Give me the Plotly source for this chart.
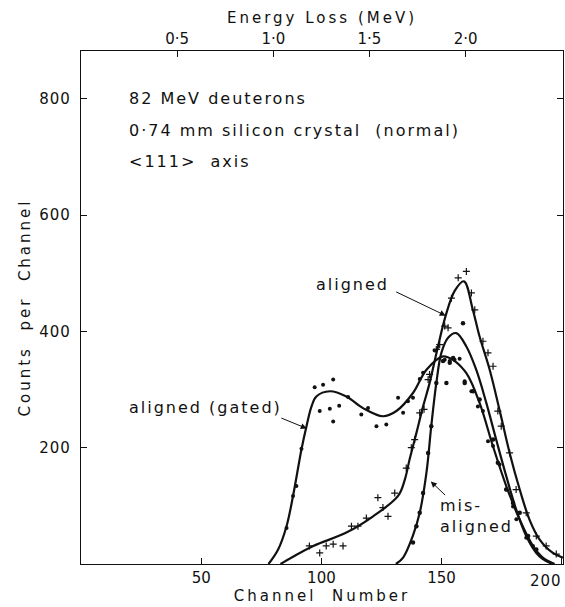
import plotly.graph_objects as go

# ---------------- data (channel, counts) ----------------
# smooth fitted curves
gated_c = [78, 82, 85.5, 88.2, 91.7, 93.8, 95.9, 97.9, 103.5, 110.4, 117.3, 125.6, 131.2, 138.1, 143.7, 150.6, 154.7, 160.3, 165.8, 171.4, 176.9, 182.5, 188, 192.1, 197]
gated_v = [0, 25, 65, 117, 197, 237, 271, 288, 297, 288, 268, 254, 263, 294, 334, 357, 351, 328, 277, 202, 134, 76, 31, 11, 0]

aligned_c = [83, 88, 96.6, 110.4, 121.5, 131.9, 134.7, 136.7, 139.5, 142.3, 145, 148, 151.7, 155.5, 159.3, 163, 165.8, 170, 174.1, 178.3, 182.5, 186.6, 190.8, 196.3, 200.5]
aligned_v = [0, 12, 31, 54, 82, 117, 145, 180, 225, 271, 311, 365, 427, 470, 486, 437, 391, 334, 265, 191, 128, 76, 42, 19, 11]

mis_c = [131, 134, 138, 140.9, 143.7, 145.7, 147.8, 149.9, 152.7, 156.1, 160.3, 164.4, 168.6, 172.7, 176.9, 181, 185.2, 189.4, 192, 196]
mis_v = [0, 11, 48, 88, 157, 237, 311, 363, 389, 397, 374, 334, 277, 214, 151, 94, 48, 19, 9, 0]

# measured points
gated_pc = [85.5, 88.2, 89.6, 91.7, 97.2, 100.7, 104.9, 99.3, 103.5, 107.4, 104.9, 111.1, 119.4, 116.6, 122.9, 127, 131.9, 134, 136, 138.1, 140.9, 142.3, 147.1, 151.3, 153.4, 155.4, 157.5, 159.6, 162.4, 165.1, 167.2, 169.3, 171.4, 174.1, 176.9, 179.7, 181.1, 185.2, 188]
gated_pv = [62, 117, 134, 198, 304, 308, 317, 263, 267, 272, 245, 287, 268, 257, 237, 240, 286, 260, 280, 286, 318, 329, 367, 351, 349, 351, 353, 314, 297, 271, 263, 211, 203, 171, 128, 99, 77, 45, 31]

aligned_pc = [95, 99.3, 102, 104.9, 109, 112.5, 115.2, 118.7, 123.5, 125.6, 127.7, 130.5, 135.3, 137.4, 138.8, 140.9, 142.7, 144.4, 145, 147.8, 149.2, 151.3, 152.7, 154.1, 156.9, 160.3, 162.4, 163.8, 167.2, 169.3, 171.4, 173.4, 174.8, 178.3, 181, 185.2, 189.4, 193.5, 197.7]
aligned_pv = [31, 19, 31, 34, 31, 65, 65, 79, 114, 97, 82, 122, 165, 200, 214, 260, 266, 317, 326, 369, 377, 409, 406, 457, 492, 503, 466, 437, 383, 363, 340, 263, 237, 191, 128, 88, 48, 31, 17]

mis_pc = [138.1, 139.5, 140.9, 142.3, 144.4, 145.7, 147.8, 150.6, 152, 153.4, 154.8, 158.9, 159.6, 163.1, 165.8, 171.4, 173.4, 176.9, 179.7, 182.5, 186, 189.4]
mis_pv = [37, 65, 88, 122, 191, 237, 311, 349, 311, 346, 354, 414, 311, 297, 283, 214, 174, 128, 105, 88, 48, 25]

energy_ticks = [0.5, 1.0, 1.5, 2.0]
energy_labels = ["0·5", "1·0", "1·5", "2·0"]
channel_ticks = [50, 100, 150]
channel_last = 200
count_ticks = [200, 400, 600, 800]

FONT = "DejaVu Sans"
BLACK = "#111111"


def spaced(t, px=2):
    return '<span style="letter-spacing:%spx">%s</span>' % (px, t)


fig = go.Figure()

for cx, cy in [(gated_c, gated_v), (aligned_c, aligned_v), (mis_c, mis_v)]:
    fig.add_trace(go.Scatter(x=cx, y=cy, mode="lines",
                             line=dict(color=BLACK, width=2.2, shape="spline", smoothing=1.0),
                             hoverinfo="skip", showlegend=False))

fig.add_trace(go.Scatter(x=gated_pc, y=gated_pv, mode="markers",
                         marker=dict(symbol="circle", size=4, color=BLACK),
                         showlegend=False))
fig.add_trace(go.Scatter(x=aligned_pc, y=aligned_pv, mode="markers",
                         marker=dict(symbol="cross-thin", size=5, color=BLACK,
                                     line=dict(color=BLACK, width=1.2)),
                         showlegend=False))
fig.add_trace(go.Scatter(x=mis_pc, y=mis_pv, mode="markers",
                         marker=dict(symbol="circle", size=4.5, color=BLACK),
                         showlegend=False))
# invisible trace on the energy axis
fig.add_trace(go.Scatter(x=[0.5, 2.0], y=[0, 0], xaxis="x2", mode="markers",
                         marker=dict(opacity=0), hoverinfo="skip", showlegend=False))

font = dict(family=FONT, size=15, color=BLACK)

fig.update_layout(
    width=565, height=607,
    margin=dict(l=81, r=2, t=51, b=43),
    paper_bgcolor="white", plot_bgcolor="white",
    font=font,
    xaxis=dict(range=[0, 200.5], tickvals=channel_ticks + [channel_last],
               ticktext=[str(v) for v in channel_ticks] + [""],
               ticks="inside", ticklen=6,
               tickcolor=BLACK, showline=True, linecolor=BLACK, linewidth=1.2,
               showgrid=False, zeroline=False, mirror=False,
               title=dict(text=spaced("Channel  Number", 3), standoff=4, font=font),
               tickfont=font),
    xaxis2=dict(range=[0, 200.5 / 80], overlaying="x", side="top", anchor="y",
                tickvals=energy_ticks, ticktext=energy_labels, ticks="inside",
                ticklen=6, tickcolor=BLACK, showline=True, linecolor=BLACK,
                linewidth=1.2, showgrid=False, zeroline=False,
                title=dict(text=spaced("Energy Loss (MeV)", 3), standoff=2, font=font),
                tickfont=font),
    yaxis=dict(range=[0, 882], tickvals=count_ticks,
               ticktext=[spaced(str(v), 1) for v in count_ticks],
               ticks="inside", ticklen=6, ticklabelstandoff=6,
               tickcolor=BLACK, showline=True, linecolor=BLACK, linewidth=1.2,
               showgrid=False, zeroline=False, mirror="ticks",
               title=dict(text=spaced("Counts  per  Channel", 3), standoff=5, font=font),
               tickfont=font),
)

# last channel tick label (sits at the right edge)
fig.add_annotation(x=channel_last, xref="x", y=0, yref="paper", yanchor="top",
                   yshift=-6, xanchor="right", xshift=2, text=spaced(str(channel_last), 1),
                   showarrow=False, font=font)

ann_font = dict(family=FONT, size=16, color=BLACK)
texts = [
    (19, 800, "82 MeV deuterons"),
    (19, 746, "0·74 mm silicon crystal  (normal)"),
    (19, 692, "<111>  axis"),
    (19, 269, "aligned (gated)"),
]
for x, y, t in texts:
    fig.add_annotation(x=x, y=y, text=spaced(t.replace("<", "&lt;").replace(">", "&gt;")),
                       showarrow=False, xanchor="left", yanchor="middle", font=ann_font)
fig.add_annotation(x=97, y=480, text=spaced("aligned"), showarrow=False, xanchor="left",
                   yanchor="middle", font=ann_font)
fig.add_annotation(x=148.4, y=82, text=spaced("mis-") + "<br>" + spaced("aligned"),
                   showarrow=False, xanchor="left", yanchor="middle", align="left",
                   font=ann_font)

arrows = [
    (130.5, 469, 151.7, 427),
    (152.1, 116, 145.5, 142),
    (82.7, 252, 93.9, 233),
]
for ax_, ay_, x, y in arrows:
    fig.add_annotation(x=x, y=y, ax=ax_, ay=ay_, axref="x", ayref="y",
                       xref="x", yref="y", text="", showarrow=True,
                       arrowhead=2, arrowsize=1.2, arrowwidth=1, arrowcolor=BLACK)

fig.write_html("out.html")
